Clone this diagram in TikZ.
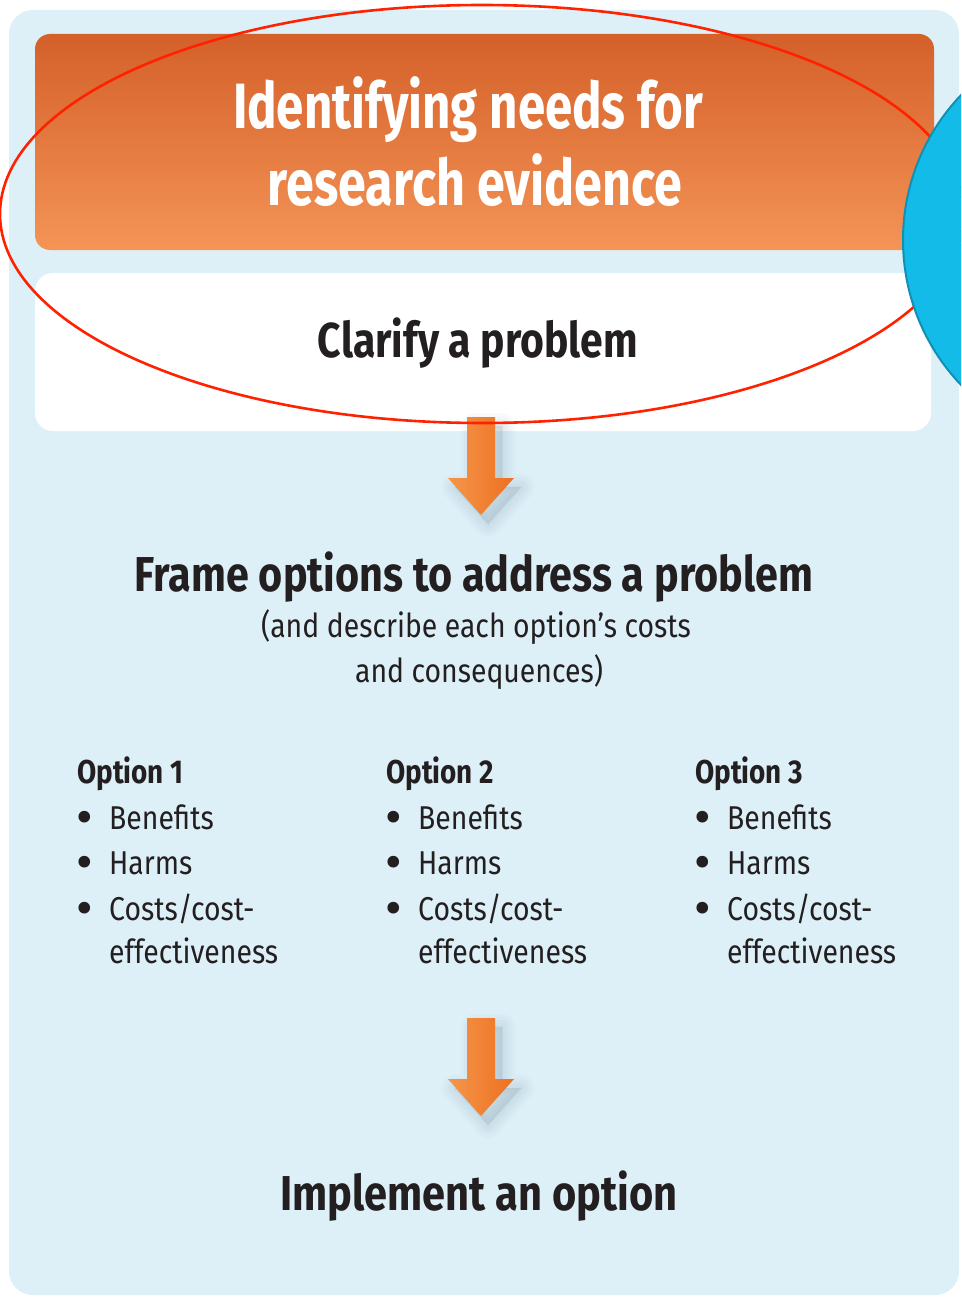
\documentclass[tikz,border=0pt]{standalone}
\usepackage{fontspec}
\setmainfont{Fira Sans}
\usepackage{graphicx}
\definecolor{bgblue}{HTML}{DDEFF7}
\definecolor{orT}{HTML}{D4602A}
\definecolor{orM}{HTML}{F07421}
\definecolor{orB}{HTML}{F49456}
\definecolor{arL}{HTML}{F4964A}
\definecolor{arR}{HTML}{EE7020}
\definecolor{shadowc}{HTML}{8AA2B2}
\definecolor{cyanfill}{HTML}{13BBE8}
\definecolor{cyanline}{HTML}{1290B4}
\definecolor{redline}{HTML}{FF2200}
\definecolor{ink}{HTML}{231F20}
\newlength\wtmp
\newcommand\fitw[2]{\resizebox{#1}{\height}{#2}}
\AtBeginDocument{%
  \settowidth\wtmp{\fontsize{49}{58}\selectfont\bfseries Frame options to address a problem}%
  \pgfmathsetmacro\rb{678/\wtmp}%
  \settowidth\wtmp{\fontsize{33}{40}\selectfont effectiveness}%
  \pgfmathsetmacro\rr{169/\wtmp}%
}
\tikzset{
  bigbold/.style={font=\fontsize{49}{58}\selectfont\bfseries, text=ink, inner sep=0pt, anchor=base},
  titletext/.style={font=\fontsize{64}{74}\selectfont\bfseries, text=white, inner sep=0pt, anchor=base},
  subtext/.style={font=\fontsize{33}{40}\selectfont, text=ink, inner sep=0pt, anchor=base},
  opthead/.style={font=\fontsize{33}{40}\selectfont\bfseries, text=ink, inner sep=0pt, anchor=base west},
  itemtext/.style={font=\fontsize{33}{40}\selectfont, text=ink, inner sep=0pt, anchor=base west},
  bul/.style={font=\fontsize{42}{48}\selectfont\bfseries, text=ink, inner sep=0pt, anchor=base},
  blockarrow/.pic={
    \foreach \w in {26,20,14,9,4,0}{
      \path[fill=shadowc, draw=shadowc, line width=\w pt, opacity=0.045, line join=round, shift={(7,9)}]
        (-14,0) -- (14,0) -- (14,61) -- (33,61) -- (0,98) -- (-33,61) -- (-14,61) -- cycle;
    }
    \shade[left color=arL, right color=arR]
      (-14,0) -- (14,0) -- (14,61) -- (33,61) -- (0,98) -- (-33,61) -- (-14,61) -- cycle;
  }
}
\begin{document}
\begin{tikzpicture}[x=1pt,y=-1pt]
\useasboundingbox (0,0) rectangle (961,1297);
\clip (0,0) rectangle (961,1297);
\fill[white] (0,0) rectangle (961,1297);
% panels
\fill[bgblue, rounded corners=24pt] (9,10) rectangle (959,1295);
\shade[rounded corners=15pt, top color=orT, middle color=orM, bottom color=orB] (35,34) rectangle (934,250);
\fill[white, rounded corners=18pt] (35,273) rectangle (931,431);
% texts
\node[titletext] (t1) at (468,129) {\fitw{470pt}{Identifying needs for}};
\node[titletext] (t2) at (475,206) {\fitw{414pt}{research evidence}};
\node[bigbold] (clarify) at (478,357) {\fitw{320pt}{Clarify a problem}};
% arrows
\pic at (481,417) {blockarrow};
\pic at (481,1018) {blockarrow};
\node[bigbold] (frame) at (474,591) {\scalebox{\rb}[1]{Frame options to address a problem}};
\node[subtext] (sub1) at (476,637) {\scalebox{\rr}[1]{(and describe each option’s costs}};
\node[subtext] (sub2) at (479,682) {\scalebox{\rr}[1]{and consequences)}};
\foreach \i/\dx in {1/0,2/309,3/618}{
  \node[opthead] (opt\i) at (77+\dx,783) {\scalebox{\rb}[1]{Option \i}};
  \node[bul] (bA\i) at (85+\dx,831) {•};
  \node[itemtext] (iA\i) at (109+\dx,829) {\scalebox{\rr}[1]{Benefits}};
  \node[bul] (bB\i) at (85+\dx,876) {•};
  \node[itemtext] (iB\i) at (109+\dx,874) {\scalebox{\rr}[1]{Harms}};
  \node[bul] (bC\i) at (85+\dx,922) {•};
  \node[itemtext] (iC\i) at (109+\dx,920) {\scalebox{\rr}[1]{Costs/cost-}};
  \node[itemtext] (iD\i) at (109+\dx,963) {\scalebox{\rr}[1]{effectiveness}};
}
\node[bigbold] (impl) at (479,1210) {\fitw{397pt}{Implement an option}};
% annotations
\draw[redline, line width=2.6pt] (482,214) ellipse [x radius=482pt, y radius=209pt];
\draw[cyanline, fill=cyanfill, line width=2pt] (1113,240) circle [radius=210pt];
\end{tikzpicture}
\end{document}
